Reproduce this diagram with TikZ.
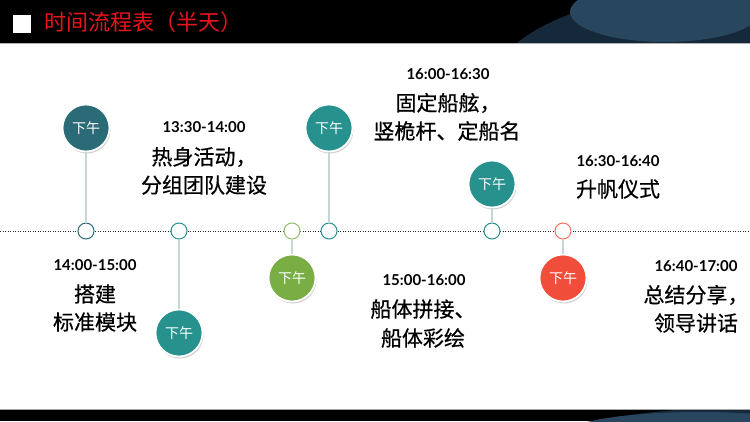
\documentclass[tikz,border=0pt]{standalone}
\usepackage{fontspec}
\setmainfont{Noto Sans CJK SC}
\newfontfamily\cjkheavy{Noto Sans CJK SC}[FakeBold=0.6]
\newfontfamily\timefont{Lato}
\usetikzlibrary{shadows}
\definecolor{darkteal}{HTML}{2B6B77}
\definecolor{tealc}{HTML}{26918D}
\definecolor{grn}{HTML}{78AE44}
\definecolor{rd}{HTML}{F04E3A}
\definecolor{titlered}{HTML}{E8141C}
\definecolor{navy}{HTML}{15293A}
\definecolor{lightnavy}{HTML}{28465E}
\definecolor{stemgray}{HTML}{C6D6D8}
\begin{document}
\begin{tikzpicture}[x=1pt,y=-1pt,
  bigc/.style={circle, fill=#1, draw=white, line width=1.8pt, minimum size=47pt, inner sep=0pt, text=white,
    font=\fontsize{14}{14}\selectfont,
    drop shadow={shadow xshift=1pt, shadow yshift=-2pt, opacity=0.35}},
  smalldot/.style={circle, fill=white, draw=#1, line width=1pt, minimum size=16pt, inner sep=0pt},
  stemline/.style={draw=stemgray, line width=1.5pt},
  tm/.style={inner sep=0pt, font=\timefont\bfseries\fontsize{15}{15}\selectfont},
  tx/.style={inner sep=0pt, font=\cjkheavy\fontsize{21}{21}\selectfont}]
\useasboundingbox (0,0) rectangle (750,421);
\fill[white] (0,0) rectangle (750,421);
% header
\begin{scope}
  \clip (0,0) rectangle (750,43);
  \fill[black] (0,0) rectangle (750,43);
  \fill[black!85] (720,-10) ellipse [x radius=160, y radius=18];
  \fill[navy] (720,90) ellipse [x radius=230, y radius=100];
  \fill[lightnavy] (665,12) ellipse [x radius=95, y radius=30];
\end{scope}
\draw[gray!60, line width=0.6pt] (0,43.3) -- (750,43.3);
\fill[white] (13,15) rectangle (31,33);
\node[anchor=west, inner sep=0pt, text=titlered, font=\fontsize{22}{22}\selectfont] (title) at (44,22) {时间流程表（半天）};
% footer
\begin{scope}
  \clip (0,409) rectangle (750,421);
  \fill[black] (0,409) rectangle (750,421);
  \fill[navy] (730,470) ellipse [x radius=215, y radius=62];
  \fill[lightnavy] (700,432) ellipse [x radius=130, y radius=20];
\end{scope}
\draw[gray!70, line width=0.6pt] (0,409) -- (750,409);
% timeline
\draw[black!85, line width=1pt, dash pattern=on 1pt off 1.5pt] (0,231) -- (750,231);
% small dots
\node[smalldot=darkteal] (s1) at (86,231) {};
\node[smalldot=tealc] (s2) at (179,231) {};
\node[smalldot=grn!80] (s3) at (292,231) {};
\node[smalldot=tealc] (s4) at (329,231) {};
\node[smalldot=tealc] (s5) at (492,231) {};
\node[smalldot=rd!80] (s6) at (563,231) {};
% big circles
\node[bigc=darkteal] (c1) at (86,128) {下午};
\node[bigc=tealc] (c2) at (179,333) {下午};
\node[bigc=grn] (c3) at (292,278) {下午};
\node[bigc=tealc] (c4) at (329,128) {下午};
\node[bigc=tealc] (c5) at (492,184) {下午};
\node[bigc=rd] (c6) at (563,278) {下午};
% stems
\draw[stemline] (s1) -- (c1);
\draw[stemline] (s2) -- (c2);
\draw[stemline] (s3) -- (c3);
\draw[stemline] (s4) -- (c4);
\draw[stemline] (s5) -- (c5);
\draw[stemline] (s6) -- (c6);
% texts
\node[tm] (a0) at (204,127) {13:30-14:00};
\node[tx] (a1) at (204,157) {热身活动，};
\node[tx] (a2) at (204,185) {分组团队建设};
\node[tm] (b0) at (95,265) {14:00-15:00};
\node[tx] (b1) at (95,294) {搭建};
\node[tx] (b2) at (95,322) {标准模块};
\node[tm] (d0) at (448,74) {16:00-16:30};
\node[tx] (d1) at (448,103) {固定船舷，};
\node[tx] (d2) at (447,131) {竖桅杆、定船名};
\node[tm] (e0) at (424,280) {15:00-16:00};
\node[tx] (e1) at (423,309) {船体拼接、};
\node[tx] (e2) at (423,338) {船体彩绘};
\node[tm] (f0) at (618,161) {16:30-16:40};
\node[tx] (f1) at (618,189) {升帆仪式};
\node[tm] (g0) at (696,266) {16:40-17:00};
\node[tx] (g1) at (696,295) {总结分享，};
\node[tx] (g2) at (696,323) {领导讲话};
\end{tikzpicture}
\end{document}
